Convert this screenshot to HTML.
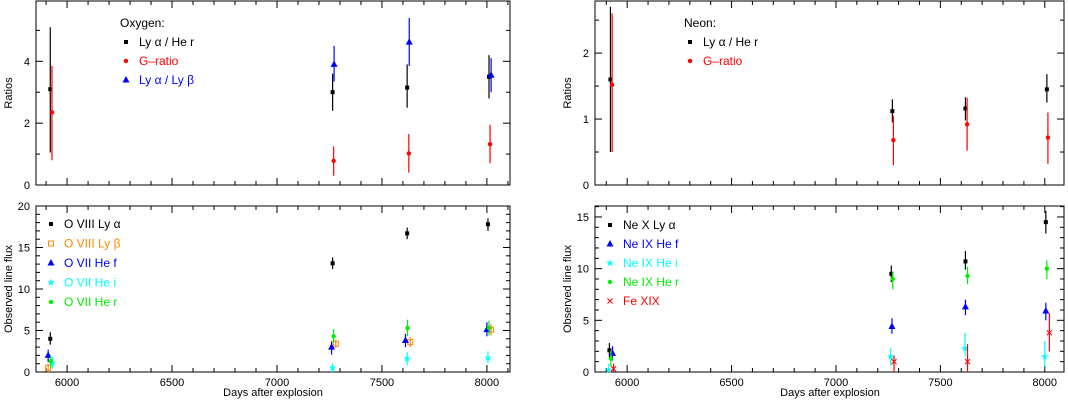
<!DOCTYPE html>
<html><head><meta charset="utf-8"><style>
body{margin:0;background:#fff}
svg{display:block;font-family:"Liberation Sans",sans-serif}
</style></head><body>
<svg id="c" width="1068" height="401"></svg>
<script>
// ---- data: [day, value, errLow, errHigh]
const oxRatioLyaHer=[[5920,3.1,1.05,5.1],[7265,3.0,2.4,3.6],[7620,3.15,2.5,3.9],[8010,3.5,2.8,4.2]];
const oxRatioG=[[5928,2.35,0.8,3.85],[7270,0.78,0.3,1.25],[7628,1.02,0.4,1.65],[8015,1.32,0.7,1.95]];
const oxRatioLyaLyb=[[7272,3.9,3.35,4.5],[7630,4.62,3.85,5.4],[8020,3.55,3.0,4.1]];
const neRatioLyaHer=[[5920,1.6,0.5,2.7],[7270,1.12,0.95,1.3],[7620,1.16,0.98,1.33],[8010,1.45,1.25,1.68]];
const neRatioG=[[5928,1.52,0.5,2.6],[7275,0.68,0.3,1.05],[7628,0.92,0.52,1.32],[8015,0.72,0.32,1.1]];
const o8Lya=[[5920,4.0,3.3,4.8],[7265,13.1,12.4,13.8],[7620,16.7,16.0,17.4],[8005,17.8,17.0,18.5]];
const o8Lyb=[[5910,0.5,0,1.0],[7280,3.4,2.9,3.9],[7635,3.6,3.0,4.2],[8020,5.1,4.4,5.8]];
const o7f=[[5910,2.0,1.2,2.7],[7260,3.0,2.1,3.7],[7612,3.8,3.0,4.6],[8000,5.1,4.3,6.0]];
const o7i=[[5930,1.1,0.4,1.8],[7265,0.5,0,1.0],[7620,1.6,0.8,2.4],[8005,1.7,1.0,2.5]];
const o7r=[[5922,1.3,0.5,2.0],[7270,4.3,3.5,5.2],[7622,5.3,4.3,6.3],[8010,5.3,4.4,6.2]];
const ne10Lya=[[5915,2.1,1.4,2.8],[7265,9.5,8.7,10.3],[7620,10.7,9.9,11.7],[8005,14.5,13.4,15.6]];
const ne9f=[[5930,1.8,1.1,2.5],[7268,4.4,3.7,5.2],[7620,6.3,5.5,7.0],[8005,5.9,5.0,6.7]];
const ne9i=[[5912,0.2,0,0.8],[7262,1.5,0.6,2.3],[7618,2.3,1.5,3.8],[8000,1.5,0.5,3.0]];
const ne9r=[[5922,1.3,0.5,2.1],[7272,9.0,8.0,9.7],[7630,9.3,8.5,10.2],[8010,10.0,9.0,10.8]];
const fe19=[[5935,0.3,0,0.8],[7278,1.0,0,1.6],[7630,1.0,0,2.7],[8022,3.8,2.0,5.7]];
const xTickLabels=[6000,6500,7000,7500,8000];

const svg=document.getElementById('c');const NS='http://www.w3.org/2000/svg';
function el(t,a,p){const e=document.createElementNS(NS,t);for(const k in a)e.setAttribute(k,a[k]);(p||svg).appendChild(e);return e;}
function panel(name,x0,x1,y0,y1,dmin,dmax,vmax,yMaj,yMin,showX){
 const g=el('g',{});
 
 
 const sx=d=>x0+(d-dmin)/(dmax-dmin)*(x1-x0);
 const sy=v=>y1-v/vmax*(y1-y0);
 el('rect',{x:x0,y:y0,width:x1-x0,height:y1-y0,fill:'none',stroke:'#000','stroke-width':1},g);
 for(let d=5900;d<=dmax;d+=100){const X=sx(d);if(X<x0)continue;const L=(d%500==0)?7:4;
  el('line',{x1:X,x2:X,y1:y1,y2:y1-L,stroke:'#000'},g);el('line',{x1:X,x2:X,y1:y0,y2:y0+L,stroke:'#000'},g);}
 for(let v=0;v<=vmax+1e-9;v+=yMin){const Y=sy(v);const maj=Math.abs(v/yMaj-Math.round(v/yMaj))<1e-6;const L=maj?7:4;
  el('line',{x1:x0,x2:x0+L,y1:Y,y2:Y,stroke:'#000'},g);el('line',{x1:x1,x2:x1-L,y1:Y,y2:Y,stroke:'#000'},g);
  if(maj){const t=el('text',{x:x0-6,y:Y+4,'font-size':11,'text-anchor':'end'},g);t.textContent=+v.toFixed(2);}}
 if(showX){xTickLabels.forEach(d=>{const t=el('text',{x:sx(d),y:y1+14,'font-size':11,'text-anchor':'middle'},g);t.textContent=d;});}
 return {g,sx,sy};
}
function marker(g,type,X,Y,col){
 if(type=='sq')el('rect',{x:X-2,y:Y-2,width:4,height:4,fill:col},g);
 else if(type=='dot')el('circle',{cx:X,cy:Y,r:2.2,fill:col},g);
 else if(type=='tri')el('polygon',{points:`${X},${Y-4} ${X-3.5},${Y+2.5} ${X+3.5},${Y+2.5}`,fill:col},g);
 else if(type=='osq')el('rect',{x:X-2.5,y:Y-2.5,width:5,height:5,fill:'none',stroke:col},g);
 else if(type=='star'){let p=[];for(let i=0;i<10;i++){const r=i%2?1.6:4,a=Math.PI*i/5-Math.PI/2;p.push((X+r*Math.cos(a)).toFixed(1)+','+(Y+r*Math.sin(a)).toFixed(1));}el('polygon',{points:p.join(' '),fill:col},g);}
 else if(type=='x'){el('path',{d:`M${X-2.5},${Y-2.5}L${X+2.5},${Y+2.5}M${X-2.5},${Y+2.5}L${X+2.5},${Y-2.5}`,stroke:col,fill:'none'},g);}
}
function series(P,data,type,col,name){
 const g=el('g',{},P.g);
 
 
 data.forEach(r=>{const X=P.sx(r[0]);el('line',{x1:X,x2:X,y1:P.sy(r[2]),y2:P.sy(r[3]),stroke:col,'stroke-width':1.2},g);marker(g,type,X,P.sy(r[1]),col);});
}
function legend(P,x,y,dy,items,header){
 const g=el('g',{},P.g);
 
 
 if(header){const t=el('text',{x:x-6,y:y-dy+4,'font-size':12},g);t.textContent=header;}
 items.forEach((it,i)=>{const Y=y+i*dy;marker(g,it[0],x,Y,it[1]);const t=el('text',{x:x+13,y:Y+4,'font-size':12,fill:it[1]},g);t.textContent=it[2];});
}
function label(txt,x,y,rot,name){const t=el('text',{x:x,y:y,'font-size':11,'text-anchor':'middle',transform:rot?`rotate(-90 ${x} ${y})`:''});t.textContent=txt;
 
 }

const A=panel('oxygen-ratio-panel',36,510,1,185,5852,8110,5.95,2,1,false);
series(A,oxRatioLyaHer,'sq','#000','series-oxygen-lya-her');
series(A,oxRatioG,'dot','#f00','series-oxygen-g-ratio');
series(A,oxRatioLyaLyb,'tri','#00f','series-oxygen-lya-lyb');
legend(A,126,42,19,[['sq','#000','Ly α / He r'],['dot','#f00','G–ratio'],['tri','#00f','Ly α / Ly β']],'Oxygen:');
const B=panel('neon-ratio-panel',595,1064,1,185,5846,8092,2.79,1,0.5,false);
series(B,neRatioLyaHer,'sq','#000','series-neon-lya-her');
series(B,neRatioG,'dot','#f00','series-neon-g-ratio');
legend(B,690,42,19,[['sq','#000','Ly α / He r'],['dot','#f00','G–ratio']],'Neon:');
const C=panel('oxygen-flux-panel',36,510,206,372,5852,8110,20,5,1,true);
series(C,o8Lya,'sq','#000','series-o8-lya');
series(C,o8Lyb,'osq','#f80','series-o8-lyb');
series(C,o7f,'tri','#00f','series-o7-f');
series(C,o7i,'star','#0ff','series-o7-i');
series(C,o7r,'dot','#0e0','series-o7-r');
legend(C,51,224,19.5,[['sq','#000','O VIII Ly α'],['osq','#f80','O VIII Ly β'],['tri','#00f','O VII He f'],['star','#0ff','O VII He i'],['dot','#0e0','O VII He r']]);
const D=panel('neon-flux-panel',595,1064,206,372,5846,8092,16.06,5,1,true);
series(D,ne10Lya,'sq','#000','series-ne10-lya');
series(D,ne9f,'tri','#00f','series-ne9-f');
series(D,ne9i,'star','#0ff','series-ne9-i');
series(D,ne9r,'dot','#0e0','series-ne9-r');
series(D,fe19,'x','#f00','series-fe19');
legend(D,610,225,19,[['sq','#000','Ne X Ly α'],['tri','#00f','Ne IX He f'],['star','#0ff','Ne IX He i'],['dot','#0e0','Ne IX He r'],['x','#f00',' Fe XIX']]);
label('Ratios',12,93,true,'y-axis-title-ratios-left');
label('Ratios',571,93,true,'y-axis-title-ratios-right');
label('Observed line flux',12,289,true,'y-axis-title-flux-left');
label('Observed line flux',571,289,true,'y-axis-title-flux-right');
label('Days after explosion',273,396,false,'x-axis-title-left');
label('Days after explosion',830,396,false,'x-axis-title-right');
</script>
</body></html>
